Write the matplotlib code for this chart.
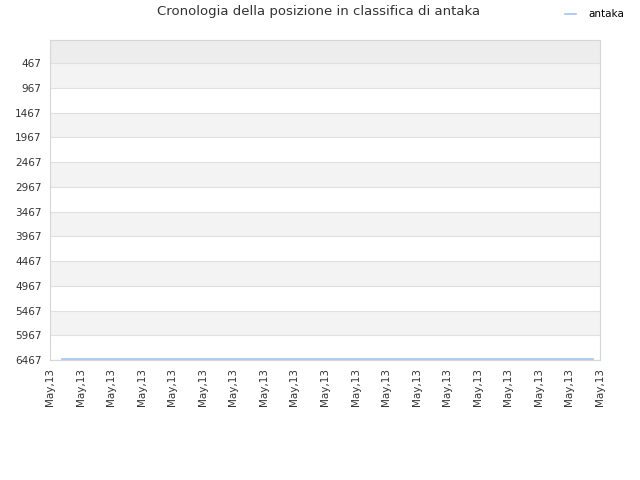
import matplotlib
matplotlib.use("Agg")
import matplotlib.pyplot as plt

# data
x_labels = ["May,13"] * 19
y_ticks = [467, 967, 1467, 1967, 2467, 2967, 3467, 3967, 4467, 4967, 5467, 5967, 6467]
series_x = [0.39, 17.77]
series_rank = [6447, 6447]
series_name = "antaka"

fig = plt.figure(figsize=(6.4, 4.8), dpi=100)
ax = fig.add_axes([50 / 640, 120 / 480, 550 / 640, 320 / 480])

y_top = 1
y_bottom = 6467
ax.set_ylim(y_bottom, y_top)
ax.set_xlim(0, len(x_labels) - 1)

# background bands
ax.axhspan(y_top, y_ticks[0], color="#ededed", zorder=0, lw=0)
for i in range(len(y_ticks) - 1):
    if i % 2 == 0:
        ax.axhspan(y_ticks[i], y_ticks[i + 1], color="#f3f3f3", zorder=0, lw=0)
for t in y_ticks:
    ax.axhline(t, color="#e0e0e0", lw=0.8, zorder=1)

ax.plot(series_x, series_rank, color="#9fc5f0", lw=1.2, label=series_name, zorder=3)

ax.set_yticks(y_ticks)
ax.set_yticklabels([str(t) for t in y_ticks])
ax.set_xticks(range(len(x_labels)))
ax.set_xticklabels(x_labels, rotation=90)
ax.tick_params(axis="both", length=0, labelsize=7.5, labelcolor="#333333", pad=6)

for side in ["top", "right", "bottom", "left"]:
    ax.spines[side].set_color("#d6d6d6")
    ax.spines[side].set_linewidth(0.8)

fig.text(0.497, 0.975, "Cronologia della posizione in classifica di antaka",
         ha="center", va="center", fontsize=9.5, color="#333333")
fig.legend(loc="upper right", bbox_to_anchor=(0.99, 1.0), frameon=False,
           fontsize=7.5, handlelength=1.0, handletextpad=1.2)

fig.savefig("out.png", dpi=100)
